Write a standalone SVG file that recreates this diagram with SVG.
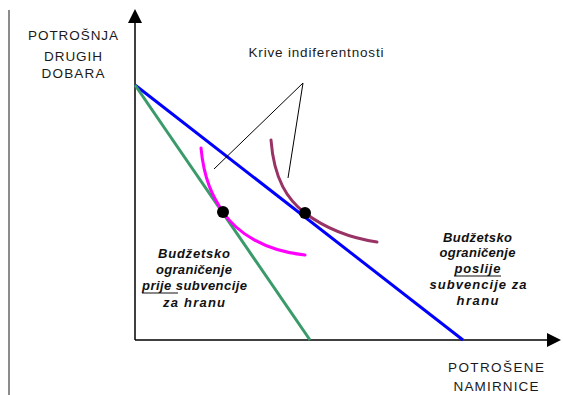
<svg xmlns="http://www.w3.org/2000/svg" width="563" height="395" viewBox="0 0 563 395">
<style>
.lbl{font-family:"Liberation Sans",Arial,sans-serif;font-size:13.5px;fill:#1a1a1a;text-anchor:middle}
.bi{font-family:"Liberation Sans",Arial,sans-serif;font-size:13px;font-weight:bold;font-style:italic;fill:#111;text-anchor:middle}
.axis{stroke:#000;stroke-width:1.5;fill:none}
.curve{fill:none;stroke-width:3;stroke-linecap:round}
.ptr{stroke:#000;stroke-width:1;fill:none}
</style>
<defs>
<marker id="arr" viewBox="0 0 14 14" refX="1" refY="7" markerWidth="14" markerHeight="14" markerUnits="userSpaceOnUse" orient="auto">
<path d="M0,0 L14,7 L0,14 Z" fill="#000"/>
</marker>
</defs>
<rect width="563" height="395" fill="#fff"/>
<line x1="9" y1="10" x2="9" y2="395" stroke="#666" stroke-width="1.5"/>
<g id="axes">
<line class="axis" x1="135" y1="340" x2="135" y2="22" marker-end="url(#arr)"/>
<line class="axis" x1="135" y1="340" x2="548" y2="340" marker-end="url(#arr)"/>
</g>
<g id="connectors">
<line id="budget-after" x1="135" y1="85" x2="463" y2="340" stroke="#0000ff" stroke-width="3"/>
<line id="budget-before" x1="135" y1="85" x2="310" y2="340" stroke="#3a9a6a" stroke-width="3"/>
<path id="ic1" class="curve" stroke="#ff00ff" d="M201,148 C204,180 213,197 223,212 C237,233 265,251 305,255"/>
<path id="ic2" class="curve" stroke="#993366" d="M271,140 C274,180 288,200 305,213 C325,228 350,238 377,242"/>
<line class="ptr" x1="303" y1="83" x2="214" y2="169"/>
<line class="ptr" x1="303" y1="83" x2="288" y2="178"/>
</g>
<g id="dot1"><circle cx="223" cy="212" r="6" fill="#000"/></g>
<g id="dot2"><circle cx="305" cy="213" r="6" fill="#000"/></g>
<g id="ylabel">
<text class="lbl" x="73" y="40" textLength="90" lengthAdjust="spacing">POTROŠNJA</text>
<text class="lbl" x="73" y="61" textLength="58" lengthAdjust="spacing">DRUGIH</text>
<text class="lbl" x="73" y="78" textLength="63" lengthAdjust="spacing">DOBARA</text>
</g>
<g id="xlabel">
<text class="lbl" x="496" y="372" textLength="96" lengthAdjust="spacing">POTROŠENE</text>
<text class="lbl" x="496" y="391" textLength="85" lengthAdjust="spacing">NAMIRNICE</text>
</g>
<g id="ic-label">
<text class="lbl" x="316" y="57" textLength="135" lengthAdjust="spacing">Krive indiferentnosti</text>
</g>
<g id="before-label">
<text class="bi" x="194" y="258" textLength="72" lengthAdjust="spacing">Budžetsko</text>
<text class="bi" x="194" y="274" textLength="76" lengthAdjust="spacing">ograničenje</text>
<text class="bi" x="194.5" y="290" textLength="105" lengthAdjust="spacing">prije subvencije</text>
<line x1="142" y1="293" x2="178" y2="293" stroke="#111" stroke-width="1"/>
<text class="bi" x="194" y="307" textLength="62" lengthAdjust="spacing">za hranu</text>
</g>
<g id="after-label">
<text class="bi" x="477.5" y="242" textLength="69" lengthAdjust="spacing">Budžetsko</text>
<text class="bi" x="477.5" y="257" textLength="76" lengthAdjust="spacing">ograničenje</text>
<text class="bi" x="477.5" y="273" textLength="46" lengthAdjust="spacing">poslije</text>
<line x1="454" y1="276" x2="501" y2="276" stroke="#111" stroke-width="1"/>
<text class="bi" x="478" y="289" textLength="97" lengthAdjust="spacing">subvencije za</text>
<text class="bi" x="477.5" y="305" textLength="42" lengthAdjust="spacing">hranu</text>
</g>
</svg>
